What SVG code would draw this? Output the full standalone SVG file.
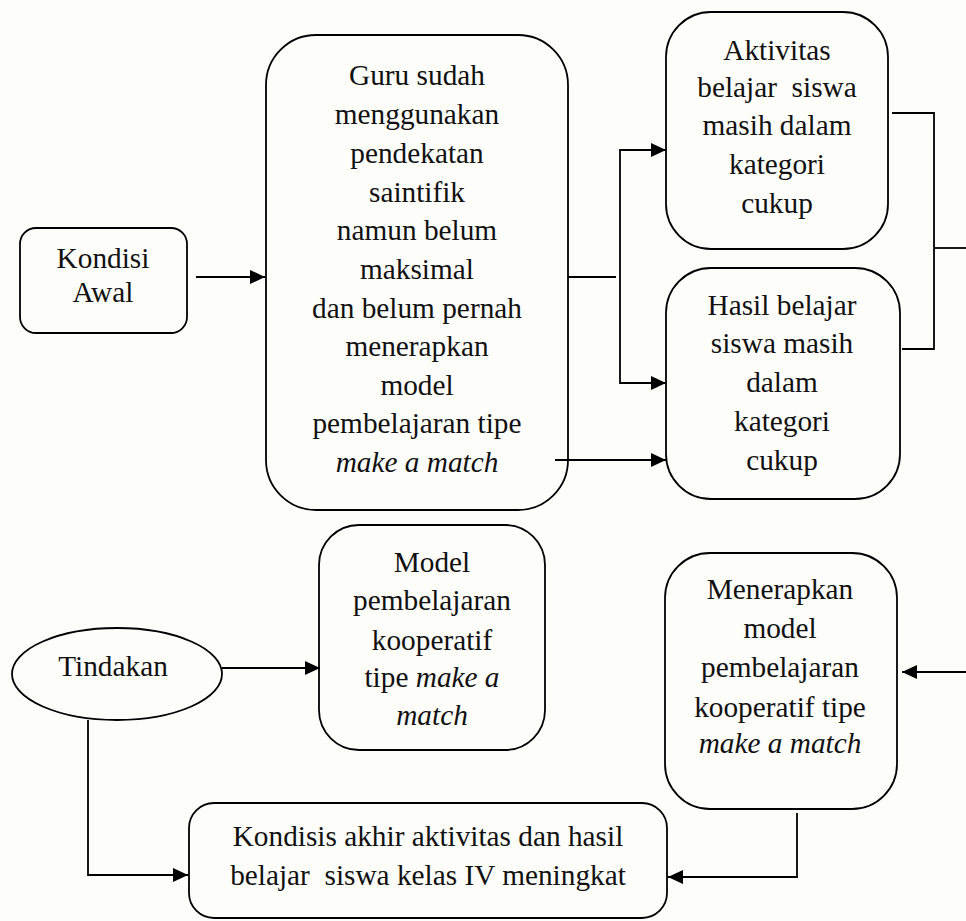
<svg xmlns="http://www.w3.org/2000/svg" width="966" height="921" viewBox="0 0 966 921">
<style>
.box{fill:none;stroke:#000;stroke-width:1.8}
.ln{fill:none;stroke:#000;stroke-width:1.8}
.t{font-family:"Liberation Serif","Times New Roman",serif;font-size:29.3px;fill:#111;text-anchor:middle}
.i{font-style:italic}
</style>
<defs>
<marker id="ah" markerUnits="userSpaceOnUse" markerWidth="16" markerHeight="14" refX="15" refY="7" orient="auto">
<path d="M0,0 L15,7 L0,14 Z" fill="#000"/>
</marker>
</defs>
<rect width="966" height="921" fill="#fdfdfa"/>
<g id="connectors">
<path class="ln" d="M196,277 H265" marker-end="url(#ah)"/>
<path class="ln" d="M568,277 H616"/>
<path class="ln" d="M666,150 H620 V383 H666" marker-end="url(#ah)"/>
<path class="ln" d="M620,150 H666" marker-end="url(#ah)"/>
<path class="ln" d="M555,460 H666" marker-end="url(#ah)"/>
<path class="ln" d="M892,113 H934 V349 H902"/>
<path class="ln" d="M934,248 H966"/>
<path class="ln" d="M966,672 H902" marker-end="url(#ah)"/>
<path class="ln" d="M222,668 H320" marker-end="url(#ah)"/>
<path class="ln" d="M88,720 V875 H188" marker-end="url(#ah)"/>
<path class="ln" d="M797,813 V877 H668" marker-end="url(#ah)"/>
</g>
<g id="kondisi-awal">
<rect class="box" x="20" y="228" width="167" height="105" rx="16"/>
<text class="t" x="103" y="268">Kondisi</text>
<text class="t" x="103" y="302">Awal</text>
</g>
<g id="guru">
<rect class="box" x="266" y="35" width="302" height="475" rx="50"/>
<text class="t" x="417" y="85">Guru sudah</text>
<text class="t" x="417" y="124">menggunakan</text>
<text class="t" x="417" y="163">pendekatan</text>
<text class="t" x="417" y="202">saintifik</text>
<text class="t" x="417" y="240">namun belum</text>
<text class="t" x="417" y="279">maksimal</text>
<text class="t" x="417" y="318">dan belum pernah</text>
<text class="t" x="417" y="356">menerapkan</text>
<text class="t" x="417" y="395">model</text>
<text class="t" x="417" y="433">pembelajaran tipe</text>
<text class="t i" x="417" y="472">make a match</text>
</g>
<g id="aktivitas">
<rect class="box" x="666" y="12" width="222" height="237" rx="45"/>
<text class="t" x="777" y="60">Aktivitas</text>
<text class="t" x="777" y="97" xml:space="preserve">belajar  siswa</text>
<text class="t" x="777" y="135">masih dalam</text>
<text class="t" x="777" y="174">kategori</text>
<text class="t" x="777" y="213">cukup</text>
</g>
<g id="hasil">
<rect class="box" x="666" y="268" width="234" height="231" rx="45"/>
<text class="t" x="782" y="315">Hasil belajar</text>
<text class="t" x="782" y="353">siswa masih</text>
<text class="t" x="782" y="392">dalam</text>
<text class="t" x="782" y="431">kategori</text>
<text class="t" x="782" y="470">cukup</text>
</g>
<g id="tindakan">
<ellipse class="box" cx="117" cy="674" rx="105" ry="46"/>
<text class="t" x="113" y="676">Tindakan</text>
</g>
<g id="model">
<rect class="box" x="319" y="525" width="226" height="225" rx="40"/>
<text class="t" x="432" y="572">Model</text>
<text class="t" x="432" y="610">pembelajaran</text>
<text class="t" x="432" y="650">kooperatif</text>
<text class="t" x="432" y="687">tipe <tspan class="i">make a</tspan></text>
<text class="t i" x="432" y="725">match</text>
</g>
<g id="menerapkan">
<rect class="box" x="665" y="553" width="232" height="256" rx="45"/>
<text class="t" x="780" y="599">Menerapkan</text>
<text class="t" x="780" y="638">model</text>
<text class="t" x="780" y="677">pembelajaran</text>
<text class="t" x="780" y="717">kooperatif tipe</text>
<text class="t i" x="780" y="753">make a match</text>
</g>
<g id="kondisi-akhir">
<rect class="box" x="189" y="803" width="478" height="115" rx="25"/>
<text class="t" x="428" y="846">Kondisis akhir aktivitas dan hasil</text>
<text class="t" x="428" y="885" xml:space="preserve">belajar  siswa kelas IV meningkat</text>
</g>
</svg>
